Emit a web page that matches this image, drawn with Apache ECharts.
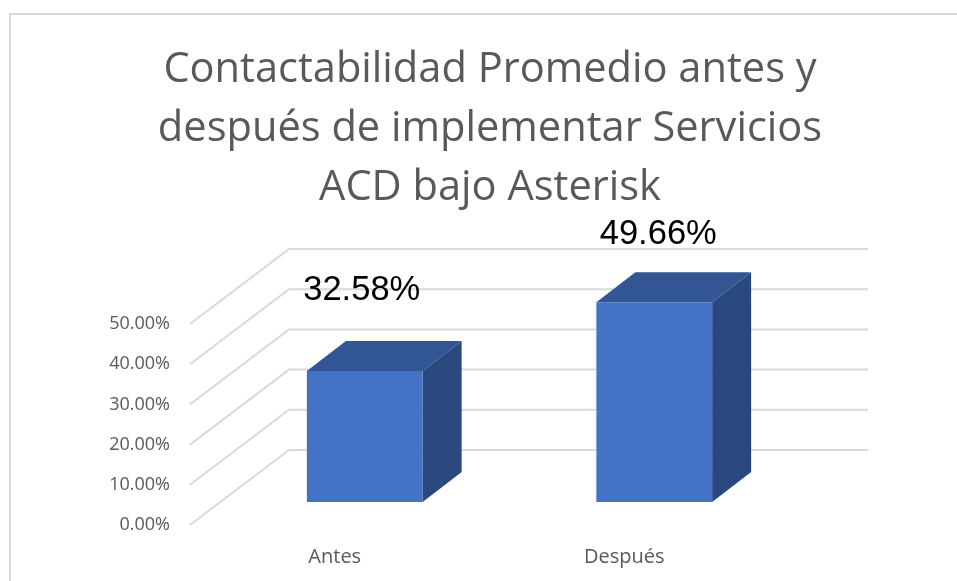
<!DOCTYPE html>
<html>
<head>
<meta charset="utf-8">
<script src="https://cdn.jsdelivr.net/npm/echarts@6/dist/echarts.min.js"></script>
<style>
html, body { margin: 0; padding: 0; background: #fff; }
#main { width: 957px; height: 581px; }
</style>
</head>
<body>
<div id="main"></div>
<script>
var titleLines = ['Contactabilidad Promedio antes y', 'después de implementar Servicios', 'ACD bajo Asterisk'];
var categories = ['Antes', 'Después'];
var values = [32.58, 49.66];
var yTicks = [0, 10, 20, 30, 40, 50];

// profundidad del "3D" en pixeles
var wallDx = 99, wallDy = -75;
var barOffX = 30, barOffY = -23;
var barDx = 39, barDy = -30;
// etiquetas movidas a mano en el original
var labelShift = [[-3, -81], [4, -68]];

var chart = echarts.init(document.getElementById('main'));

function renderGrid(params, api) {
	var y = api.coord([0, api.value(0)])[1];
	var cs = params.coordSys;
	return {
		type: 'polyline',
		shape: { points: [[cs.x, y], [cs.x + wallDx, y + wallDy], [cs.x + cs.width + wallDx, y + wallDy]] },
		style: { fill: null, stroke: '#d9d9d9', lineWidth: 2 }
	};
}

function renderBar(params, api) {
	var idx = api.value(0);
	var top = api.coord([idx, api.value(1)]);
	var base = api.coord([idx, 0]);
	var w = api.size([1, 0])[0] * 0.4;
	var l = top[0] - w / 2 + barOffX, r = l + w;
	var t = top[1] + barOffY, b = base[1] + barOffY;
	var shift = labelShift[params.dataIndex];
	return {
		type: 'group',
		children: [
			{ type: 'polygon', shape: { points: [[l, t], [r, t], [r + barDx, t + barDy], [l + barDx, t + barDy]] }, style: { fill: '#325694' } },
			{ type: 'polygon', shape: { points: [[r, t], [r + barDx, t + barDy], [r + barDx, b + barDy], [r, b]] }, style: { fill: '#2a4880' } },
			{ type: 'rect', shape: { x: l, y: t, width: w, height: b - t }, style: { fill: '#4472c4' } },
			{
				type: 'text',
				style: {
					x: (l + r) / 2 + shift[0], y: t + shift[1],
					text: api.value(1).toFixed(2) + '%',
					fill: '#000', font: '34.5px "Liberation Sans"',
					align: 'center', verticalAlign: 'middle'
				}
			}
		]
	};
}

chart.setOption({
	animation: false,
	title: {
		text: titleLines.join('\n'),
		left: 485, top: 36, textAlign: 'center',
		textStyle: { fontFamily: 'Open Sans', fontWeight: 'normal', fontSize: 41.6, lineHeight: 59, color: '#595959' }
	},
	grid: { left: 190, right: 188, top: 324, bottom: 56 },
	xAxis: {
		type: 'category',
		data: categories,
		axisLine: { show: false },
		axisTick: { show: false },
		axisLabel: { margin: 22, fontFamily: 'Open Sans', fontSize: 20, color: '#595959' }
	},
	yAxis: {
		type: 'value',
		min: 0, max: 50, interval: 10,
		axisLine: { show: false },
		axisTick: { show: false },
		splitLine: { show: false },
		axisLabel: {
			margin: 20, fontFamily: 'Open Sans', fontSize: 18, color: '#595959', padding: [2, 0, 0, 0],
			formatter: function (v) { return v.toFixed(2) + '%'; }
		}
	},
	graphic: [{
		type: 'polyline',
		shape: { points: [[10, 581], [10, 14], [957, 14]] },
		style: { fill: null, stroke: '#d9d9d9', lineWidth: 2 }
	}],
	series: [
		{ type: 'custom', renderItem: renderGrid, data: yTicks.map(function (t) { return [t]; }), encode: { y: 0 }, silent: true, z: 1 },
		{ type: 'custom', renderItem: renderBar, data: values.map(function (v, i) { return [i, v]; }), encode: { x: 0, y: 1 }, z: 2 }
	]
});
</script>
</body>
</html>
